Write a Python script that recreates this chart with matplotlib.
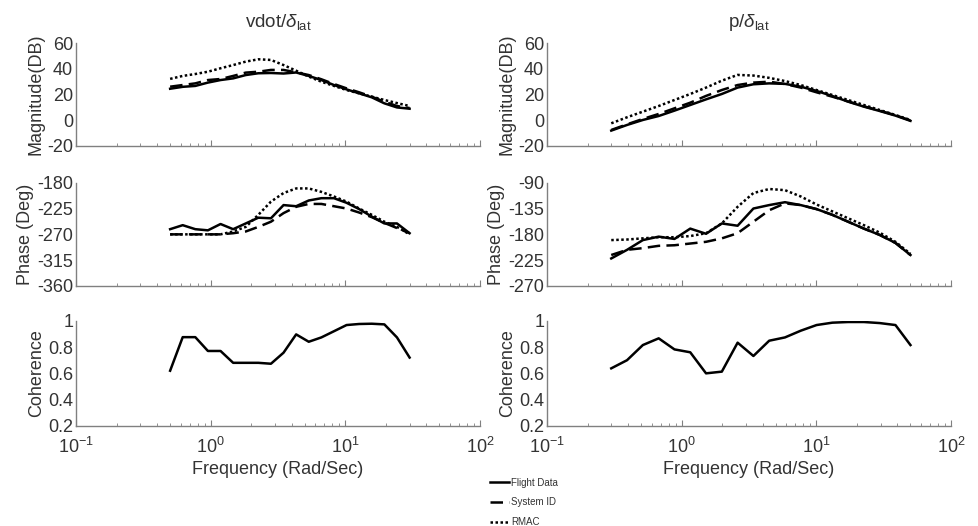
import numpy as np
import matplotlib.pyplot as plt

plt.rcParams['font.family'] = ['Liberation Sans', 'DejaVu Sans']
plt.rcParams['mathtext.fontset'] = 'custom'
plt.rcParams['mathtext.rm'] = 'Liberation Sans'
plt.rcParams['mathtext.it'] = 'Liberation Sans:italic'
plt.rcParams['axes.unicode_minus'] = False

# frequencias (rad/s)
freq_v = [0.5, 0.62, 0.769, 0.954, 1.184, 1.469, 1.822, 2.259, 2.803, 3.477,
          4.313, 5.35, 6.637, 8.233, 10.21, 12.67, 15.71, 19.49, 24.18, 30.0]
freq_p = [0.3, 0.393, 0.515, 0.675, 0.884, 1.158, 1.517, 1.987, 2.603, 3.41,
          4.467, 5.85, 7.66, 10.04, 13.15, 17.22, 22.56, 29.55, 38.7, 50.0]

# vdot / delta_lat
mag_v_flight = [24.5, 26.0, 26.7, 29.3, 31.3, 32.6, 35.2, 36.6, 36.8, 36.4,
                37.2, 34.5, 31.3, 27.4, 24.0, 20.9, 17.8, 13.1, 9.9, 8.9]
mag_v_sysid = [26.1, 27.4, 28.7, 31.3, 32.1, 34.5, 37.1, 37.8, 39.2, 39.2,
               37.3, 35.2, 31.9, 28.2, 24.8, 21.7, 18.3, 14.4, 11.0, 9.4]
mag_v_rmac = [32.2, 34.5, 36.0, 37.8, 40.5, 43.0, 45.7, 47.5, 47.0, 43.0,
              38.6, 34.0, 30.0, 26.7, 23.5, 20.9, 18.3, 15.7, 13.3, 11.0]

ph_v_flight = [-261, -254, -261, -263, -252, -261, -251, -241, -242, -219,
               -221, -211, -207, -207, -215, -226, -239, -251, -251, -268]
ph_v_sysid = [-270, -270, -270, -270, -270, -268, -265, -257, -248, -233,
              -222, -217, -217, -221, -225, -232, -240, -250, -259, -268]
ph_v_rmac = [-270, -270, -270, -270, -270, -265, -257, -236, -213, -198,
             -190, -190, -196, -204, -213, -225, -236, -248, -257, -270]

coh_v = [0.62, 0.875, 0.875, 0.77, 0.77, 0.68, 0.68, 0.68, 0.673, 0.757,
         0.896, 0.84, 0.873, 0.92, 0.967, 0.975, 0.977, 0.972, 0.873, 0.72]

# p / delta_lat
mag_p_flight = [-8.2, -3.8, 0.1, 3.2, 7.4, 11.8, 16.2, 20.4, 25.4, 28.0,
                28.7, 28.3, 26.1, 22.8, 18.8, 14.4, 10.5, 7.1, 3.5, -0.6]
mag_p_sysid = [-7.7, -3.3, 0.9, 4.8, 9.2, 13.6, 18.9, 23.5, 27.4, 29.3,
               30.0, 28.2, 25.4, 21.7, 18.3, 14.6, 10.8, 7.4, 3.8, -0.3]
mag_p_rmac = [-2.5, 2.2, 6.6, 11.0, 15.7, 20.4, 25.4, 30.8, 35.3, 34.8,
              33.0, 30.5, 27.4, 23.5, 19.6, 15.7, 11.8, 7.9, 4.0, 0.1]

ph_p_flight = [-222, -207, -190, -184, -188, -170, -179, -161, -165, -135,
               -129, -124, -129, -136, -146, -158, -170, -181, -195, -216]
ph_p_sysid = [-216, -207, -204, -200, -199, -196, -193, -187, -178, -158,
              -138, -126, -129, -136, -146, -158, -170, -181, -195, -216]
ph_p_rmac = [-190, -189, -187, -185, -185, -183, -178, -161, -132, -108,
             -101, -103, -114, -128, -140, -152, -164, -177, -193, -214]

coh_p = [0.638, 0.70, 0.815, 0.866, 0.782, 0.76, 0.60, 0.613, 0.833, 0.732,
         0.848, 0.873, 0.924, 0.967, 0.985, 0.99, 0.99, 0.982, 0.967, 0.815]

cinza = '#333333'
estilo_flight = dict(color='black', lw=1.8, linestyle='-')
estilo_sysid = dict(color='black', lw=1.8, linestyle=(0, (5, 2.5)))
estilo_rmac = dict(color='black', lw=1.8, linestyle=(0, (1, 1)))

fig = plt.figure(figsize=(9.79, 5.26), dpi=100)

W = 404 / 979
lefts = [76 / 979, 547 / 979]
linhas = [(1 - 145.7 / 526, 102.4 / 526),
          (1 - 286 / 526, 103.3 / 526),
          (1 - 426 / 526, 105.3 / 526)]


def formatar(ax, ylim, yticks, ylabel, mostrar_x):
    ax.set_xscale('log')
    ax.set_xlim(0.1, 100)
    ax.set_ylim(*ylim)
    ax.set_yticks(yticks)
    ax.set_ylabel(ylabel, fontsize=13, color=cinza, labelpad=2)
    for s in ['top', 'right']:
        ax.spines[s].set_visible(False)
    for s in ['left', 'bottom']:
        ax.spines[s].set_color('#808080')
        ax.spines[s].set_linewidth(1.0)
    ax.tick_params(axis='x', which='major', direction='in', length=4,
                   color='#808080', labelsize=13, labelcolor=cinza, pad=8)
    ax.tick_params(axis='x', which='minor', direction='in', length=2.5,
                   color='#808080')
    ax.tick_params(axis='y', direction='in', length=0, labelsize=13,
                   labelcolor=cinza, pad=2)
    if not mostrar_x:
        ax.tick_params(axis='x', which='both', labelbottom=False)
    else:
        ax.set_xlabel('Frequency (Rad/Sec)', fontsize=13, color=cinza, labelpad=3)


dados = [
    (freq_v, mag_v_flight, mag_v_sysid, mag_v_rmac, ph_v_flight, ph_v_sysid,
     ph_v_rmac, coh_v, (-180, -360), r'vdot/$\delta_{\rm lat}$'),
    (freq_p, mag_p_flight, mag_p_sysid, mag_p_rmac, ph_p_flight, ph_p_sysid,
     ph_p_rmac, coh_p, (-90, -270), r'p/$\delta_{\rm lat}$'),
]

for col, (f, mf, ms, mr, pf, ps, pr, coh, ph_lim, titulo) in enumerate(dados):
    x0 = lefts[col]
    ax1 = fig.add_axes([x0, linhas[0][0], W, linhas[0][1]])
    ax1.plot(f, mf, **estilo_flight, label='Flight Data')
    ax1.plot(f, ms, **estilo_sysid, label='System ID')
    ax1.plot(f, mr, **estilo_rmac, label='RMAC')
    formatar(ax1, (-20, 60), [-20, 0, 20, 40, 60], 'Magnitude(DB)', False)
    ax1.set_title(titulo, fontsize=13.5, color=cinza, pad=12)

    ax2 = fig.add_axes([x0, linhas[1][0], W, linhas[1][1]])
    ax2.plot(f, pf, **estilo_flight)
    ax2.plot(f, ps, **estilo_sysid)
    ax2.plot(f, pr, **estilo_rmac)
    top, bot = ph_lim
    formatar(ax2, (bot, top), np.arange(bot, top + 1, 45), 'Phase (Deg)', False)

    ax3 = fig.add_axes([x0, linhas[2][0], W, linhas[2][1]])
    ax3.plot(f, coh, **estilo_flight)
    formatar(ax3, (0.2, 1.0), [0.2, 0.4, 0.6, 0.8, 1.0], 'Coherence', True)
    ax3.set_yticklabels(['0.2', '0.4', '0.6', '0.8', '1'])

    if col == 0:
        handles, labels = ax1.get_legend_handles_labels()

leg = fig.legend(handles, labels, loc='lower left',
                 bbox_to_anchor=(484 / 979, -0.013), frameon=False, fontsize=7,
                 handlelength=2.0, handletextpad=0.2, labelspacing=1.0,
                 borderaxespad=0.2)
for t in leg.get_texts():
    t.set_color(cinza)

fig.savefig('out.png', dpi=100)
